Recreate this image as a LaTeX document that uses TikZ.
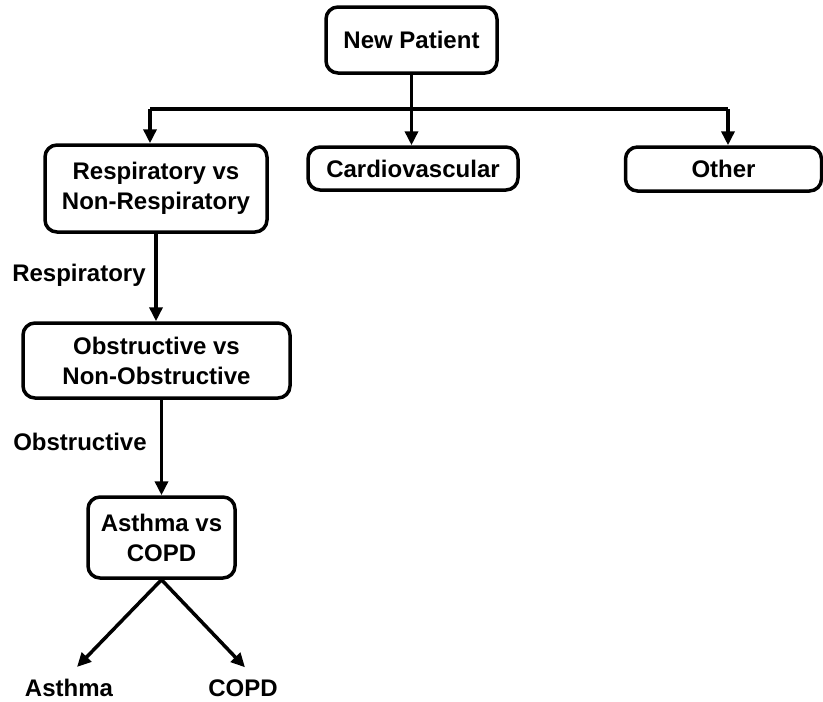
\documentclass[tikz,border=0pt]{standalone}
\usepackage{fontspec}
\setmainfont{Liberation Sans}
\usepackage{tikz}
\usetikzlibrary{arrows.meta,positioning}

\begin{document}
\begin{tikzpicture}[
    x=1pt, y=-1pt,
    box/.style={draw, line width=3.5pt, rounded corners=12pt, align=center, inner sep=0pt},
    lbl/.style={inner sep=0pt, align=center},
    line/.style={line width=3.5pt},
    arrow/.style={line width=3.5pt, -{Triangle[length=14pt,width=13pt]}},
    every node/.style={font=\fontsize{24}{30}\selectfont\bfseries}
]
\useasboundingbox (0,0) rectangle (823,702);

\node[box, minimum width=171pt, minimum height=66pt] (np) at (411.5,40) {New Patient};
\node[box, minimum width=222pt, minimum height=87pt] (resp) at (156,188.5) {Respiratory vs\\Non-Respiratory};
\node[box, minimum width=210pt, minimum height=43pt] (cardio) at (413,168.5) {Cardiovascular};
\node[box, minimum width=196pt, minimum height=44pt] (other) at (723.5,169) {Other};
\node[box, minimum width=267pt, minimum height=75pt] (obs) at (156.5,360.5) {Obstructive vs\\Non-Obstructive};
\node[box, minimum width=147pt, minimum height=81pt] (ast) at (161.5,537.5) {Asthma vs\\COPD};

\node[lbl] (lresp) at (79,275) {Respiratory};
\node[lbl] (lobs) at (80,442) {Obstructive};
\node[lbl] (asthma) at (69,688) {Asthma};
\node[lbl] (copd) at (243,688) {COPD};

\coordinate (barL) at (150,109);
\coordinate (barR) at (728,109);

\draw[line] (barL) -- (barR);
\draw[arrow] (np.south) -- (np.south |- cardio.north);
\draw[arrow] (barL) -- (barL |- resp.north);
\draw[arrow] (barR) -- (barR |- other.north);
\draw[arrow] (resp.south) -- (resp.south |- obs.north);
\draw[arrow] (ast.north |- obs.south) -- (ast.north);
\draw[arrow] (ast.south) -- ([shift={(8pt,12pt)}]asthma.north);
\draw[arrow] (ast.south) -- ([shift={(2pt,12pt)}]copd.north);
\end{tikzpicture}
\end{document}
